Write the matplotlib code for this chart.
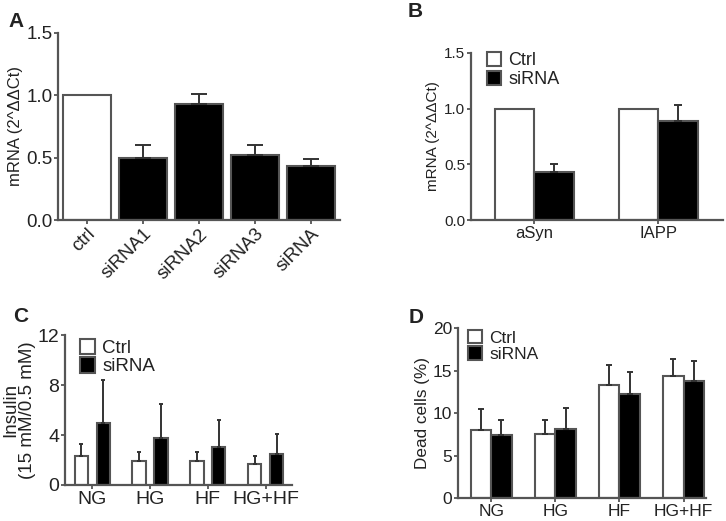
import numpy as np
import matplotlib
matplotlib.use("Agg")
import matplotlib.pyplot as plt

plt.rcParams["font.family"] = ["Liberation Sans", "DejaVu Sans"]
plt.rcParams["text.color"] = "#222222"
plt.rcParams["axes.labelcolor"] = "#222222"
plt.rcParams["xtick.color"] = "#555555"
plt.rcParams["ytick.color"] = "#555555"
plt.rcParams["xtick.labelcolor"] = "#222222"
plt.rcParams["ytick.labelcolor"] = "#222222"

# panel A
a_labels = ["ctrl", "siRNA1", "siRNA2", "siRNA3", "siRNA"]
a_vals = [1.0, 0.50, 0.93, 0.52, 0.43]
a_top = [1.0, 0.60, 1.01, 0.60, 0.49]

# panel B
b_groups = ["aSyn", "IAPP"]
b_ctrl = [1.0, 1.0]
b_sirna = [0.43, 0.89]
b_sirna_top = [0.50, 1.03]

# panel C
cd_groups = ["NG", "HG", "HF", "HG+HF"]
c_ctrl = [2.3, 1.9, 1.9, 1.7]
c_ctrl_top = [3.3, 2.6, 2.6, 2.3]
c_sirna = [5.0, 3.8, 3.0, 2.5]
c_sirna_top = [8.4, 6.5, 5.2, 4.1]

# panel D
d_ctrl = [8.0, 7.5, 13.3, 14.4]
d_ctrl_top = [10.5, 9.2, 15.6, 16.4]
d_sirna = [7.4, 8.1, 12.2, 13.8]
d_sirna_top = [9.2, 10.6, 14.8, 16.1]

EDGE = "#555555"
ERR = "#333333"


def style(ax, fs):
    for s in ["top", "right"]:
        ax.spines[s].set_visible(False)
    for s in ["left", "bottom"]:
        ax.spines[s].set_color(EDGE)
        ax.spines[s].set_linewidth(1.6)
    ax.tick_params(axis="both", width=1.3, length=3, labelsize=fs, pad=1)


def upper_err(ax, x, vals, tops, cap):
    vals = np.array(vals)
    tops = np.array(tops)
    ax.errorbar(x, tops, yerr=[tops - vals, np.zeros_like(vals)], fmt="none",
                ecolor=ERR, elinewidth=1.4, capsize=cap, capthick=1.4)


fig = plt.figure(figsize=(7.26, 5.21), dpi=100)

# A
axA = fig.add_axes([0.0799, 0.5777, 0.3885, 0.359])
xa = np.arange(len(a_labels))
colors = ["white"] + ["black"] * 4
axA.bar(xa, a_vals, width=0.87, color=colors, edgecolor=EDGE, linewidth=1.5, zorder=2)
upper_err(axA, xa[1:], a_vals[1:], a_top[1:], 6)
axA.set_xlim(-0.52, 4.52)
axA.set_ylim(0, 1.5)
axA.set_yticks([0, 0.5, 1.0, 1.5])
axA.set_yticklabels(["0.0", "0.5", "1.0", "1.5"])
axA.set_xticks(xa)
axA.set_xticklabels(a_labels, rotation=45, ha="right", rotation_mode="anchor")
style(axA, 13.5)
axA.set_ylabel("mRNA (2^ΔΔCt)", fontsize=12, labelpad=2)
fig.text(0.012, 0.958, "A", fontsize=15, fontweight="bold", ha="left", va="center")

# B
axB = fig.add_axes([0.6488, 0.5777, 0.3471, 0.3206])
xb = np.arange(len(b_groups))
w = 0.32
axB.bar(xb - w / 2, b_ctrl, width=w, color="white", edgecolor=EDGE, linewidth=1.5, label="Ctrl", zorder=2)
axB.bar(xb + w / 2, b_sirna, width=w, color="black", edgecolor=EDGE, linewidth=1.5, label="siRNA", zorder=2)
upper_err(axB, xb + w / 2, b_sirna, b_sirna_top, 3)
axB.set_xlim(-0.51, 1.52)
axB.set_ylim(0, 1.5)
axB.set_yticks([0, 0.5, 1.0, 1.5])
axB.set_yticklabels(["0.0", "0.5", "1.0", "1.5"])
axB.set_xticks(xb)
axB.set_xticklabels(b_groups)
style(axB, 11)
axB.tick_params(axis="x", labelsize=12)
axB.set_ylabel("mRNA (2^ΔΔCt)", fontsize=11, labelpad=3)
axB.legend(loc="upper left", bbox_to_anchor=(0.02, 1.07), frameon=False, fontsize=13,
           handlelength=0.8, handleheight=0.8, handletextpad=0.4, labelspacing=0.1,
           borderpad=0.1)
fig.text(0.562, 0.977, "B", fontsize=15, fontweight="bold", ha="left", va="center")

# C
axC = fig.add_axes([0.0895, 0.0691, 0.3127, 0.2879])
xc = np.arange(len(cd_groups))
off = 0.19
wc = 0.23
axC.bar(xc - off, c_ctrl, width=wc, color="white", edgecolor=EDGE, linewidth=1.5, label="Ctrl", zorder=2)
axC.bar(xc + off, c_sirna, width=wc, color="black", edgecolor=EDGE, linewidth=1.5, label="siRNA", zorder=2)
upper_err(axC, xc - off, c_ctrl, c_ctrl_top, 1.5)
upper_err(axC, xc + off, c_sirna, c_sirna_top, 1.5)
axC.set_xlim(-0.474, 3.457)
axC.set_ylim(0, 12)
axC.set_yticks([0, 4, 8, 12])
axC.set_xticks(xc)
axC.set_xticklabels(cd_groups)
style(axC, 14)
axC.set_ylabel("Insulin\n(15 mM/0.5 mM)", fontsize=13.5, labelpad=1, linespacing=1.0)
axC.legend(loc="upper left", bbox_to_anchor=(0.015, 1.05), frameon=False, fontsize=13.5,
           handlelength=0.8, handleheight=0.9, handletextpad=0.4, labelspacing=0.0,
           borderpad=0.1)
fig.text(0.018, 0.393, "C", fontsize=15, fontweight="bold", ha="left", va="center")

# D
axD = fig.add_axes([0.6309, 0.0441, 0.3416, 0.3263])
xd = np.arange(len(cd_groups))
wd = 0.32
axD.bar(xd - wd / 2, d_ctrl, width=wd, color="white", edgecolor=EDGE, linewidth=1.5, label="Ctrl", zorder=2)
axD.bar(xd + wd / 2, d_sirna, width=wd, color="black", edgecolor=EDGE, linewidth=1.5, label="siRNA", zorder=2)
upper_err(axD, xd - wd / 2, d_ctrl, d_ctrl_top, 2)
upper_err(axD, xd + wd / 2, d_sirna, d_sirna_top, 2)
axD.set_xlim(-0.516, 3.35)
axD.set_ylim(0, 20)
axD.set_yticks([0, 5, 10, 15, 20])
axD.set_xticks(xd)
axD.set_xticklabels(cd_groups)
style(axD, 12.5)
axD.set_ylabel("Dead cells (%)", fontsize=12.3, labelpad=2)
axD.legend(loc="upper left", bbox_to_anchor=(0.0, 1.05), frameon=False, fontsize=12.5,
           handlelength=0.8, handleheight=0.8, handletextpad=0.4, labelspacing=0.05,
           borderpad=0.1)
fig.text(0.563, 0.39, "D", fontsize=15, fontweight="bold", ha="left", va="center")

fig.savefig("out.png", dpi=100)
